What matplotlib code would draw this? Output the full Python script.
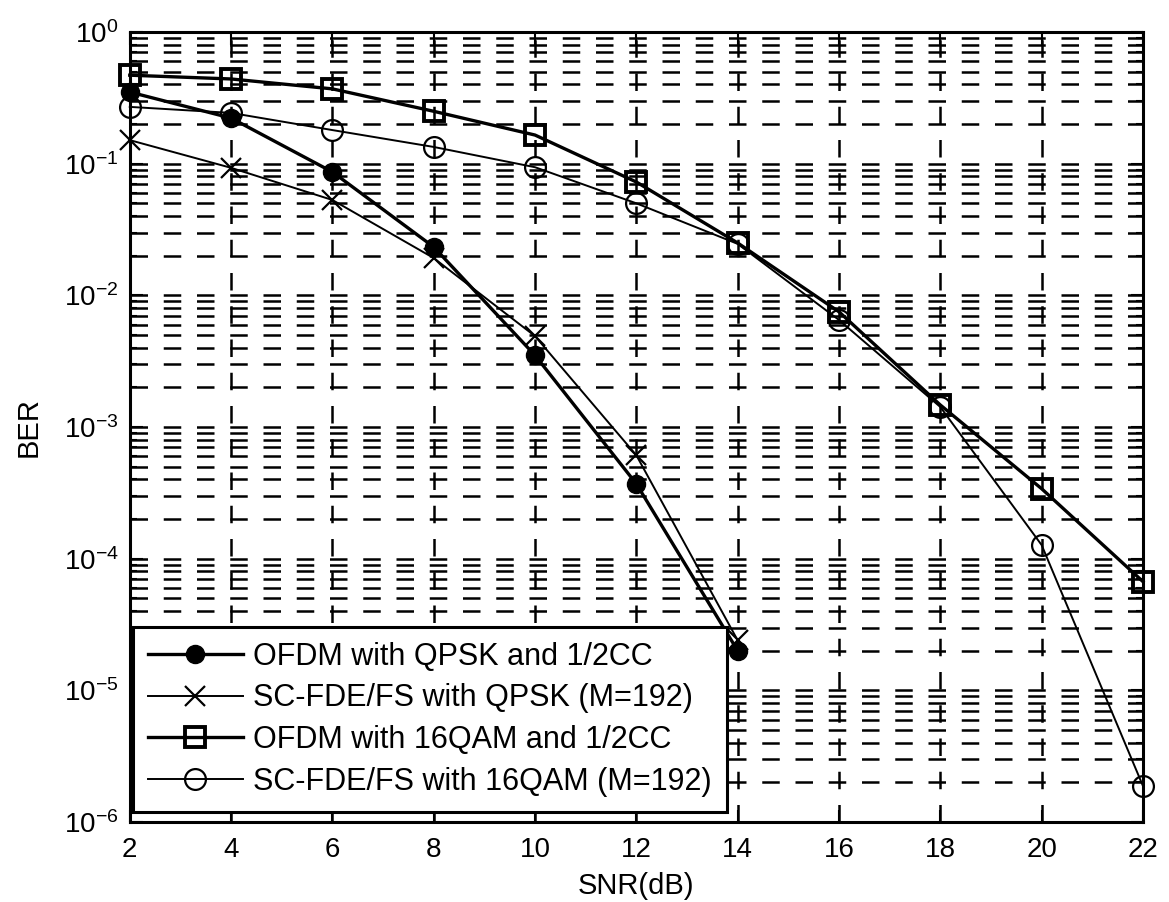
import matplotlib
matplotlib.use("Agg")
import matplotlib.pyplot as plt
from matplotlib.ticker import LogLocator, FixedLocator

plt.rcParams['font.family'] = ['Liberation Sans', 'DejaVu Sans']
plt.rcParams['mathtext.fontset'] = 'custom'
plt.rcParams['mathtext.rm'] = 'Liberation Sans'
plt.rcParams['mathtext.it'] = 'Liberation Sans'

snr_short = [2, 4, 6, 8, 10, 12, 14]
snr_long = [2, 4, 6, 8, 10, 12, 14, 16, 18, 20, 22]

ofdm_qpsk = [0.35, 0.222, 0.0865, 0.0233, 3.5e-3, 3.7e-4, 2.0e-5]
scfde_qpsk = [0.151, 0.093, 0.053, 0.0192, 4.9e-3, 6.1e-4, 2.4e-5]
ofdm_16qam = [0.47, 0.44, 0.37, 0.25, 0.165, 0.0726, 0.025, 7.5e-3, 1.47e-3, 3.4e-4, 6.7e-5]
scfde_16qam = [0.27, 0.243, 0.18, 0.134, 0.094, 0.050, 0.0246, 6.5e-3, 1.42e-3, 1.27e-4, 1.88e-6]

labels = ["OFDM with QPSK and 1/2CC",
          "SC-FDE/FS with QPSK (M=192)",
          "OFDM with 16QAM and 1/2CC",
          "SC-FDE/FS with 16QAM (M=192)"]

fig = plt.figure(figsize=(11.69, 9.02), dpi=100)
ax = fig.add_axes([0.111, 0.0887, 0.8667, 0.8758])

ax.semilogy(snr_short, ofdm_qpsk, '-', color='black', lw=2.4, marker='o',
            ms=13, mfc='black', mec='black', label=labels[0], zorder=5,
            clip_on=False)
ax.semilogy(snr_short, scfde_qpsk, '-', color='black', lw=1.4, marker='x',
            ms=14, mew=1.6, label=labels[1], zorder=5, clip_on=False)
ax.semilogy(snr_long, ofdm_16qam, '-', color='black', lw=2.4, marker='s',
            ms=15, mfc='none', mec='black', mew=2.8, label=labels[2], zorder=5,
            clip_on=False)
ax.semilogy(snr_long, scfde_16qam, '-', color='black', lw=1.4, marker='o',
            ms=15, mfc='none', mec='black', mew=1.6, label=labels[3], zorder=5,
            clip_on=False)

ax.set_xlim(2, 22)
ax.set_ylim(1e-6, 1)
ax.xaxis.set_major_locator(FixedLocator(snr_long))
ax.yaxis.set_major_locator(LogLocator(base=10, numticks=10))
ax.yaxis.set_minor_locator(LogLocator(base=10, subs=range(2, 10), numticks=20))

grid_style = dict(color='black', linewidth=1.8, linestyle=(0, (7, 6.3)))
ax.grid(True, which='major', axis='both', **grid_style)
ax.grid(True, which='minor', axis='y', **grid_style)
ax.set_axisbelow(True)

ax.tick_params(which='both', direction='in', top=True, right=True, width=1.5,
               labelsize=20, pad=8)
ax.tick_params(axis='x', which='major', pad=11)
ax.tick_params(which='major', length=9)
ax.tick_params(which='minor', length=5)
for s in ax.spines.values():
    s.set_linewidth(2.2)

ax.set_xlabel("SNR(dB)", fontsize=21, labelpad=6)
ax.set_ylabel("BER", fontsize=21, labelpad=15)

leg = ax.legend(loc='lower left', bbox_to_anchor=(0.003, 0.0127),
                borderaxespad=0, fontsize=22, frameon=True, fancybox=False,
                edgecolor='black', framealpha=1,
                handlelength=3.1, handletextpad=0.35, labelspacing=0.38,
                borderpad=0.5)
leg.get_frame().set_linewidth(2.2)
leg.set_zorder(10)

fig.savefig("out.png", dpi=100)
